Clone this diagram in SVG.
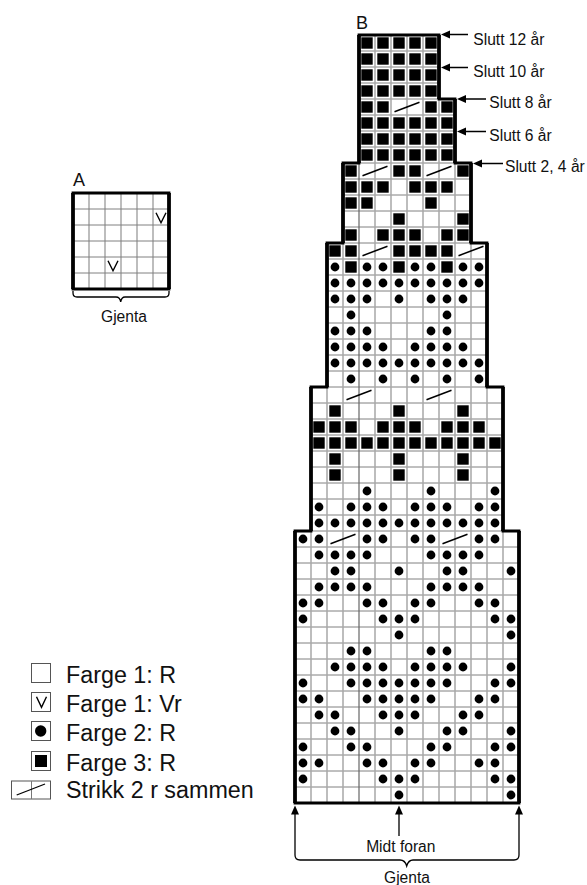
<svg xmlns="http://www.w3.org/2000/svg" width="587" height="885" viewBox="0 0 587 885">
<style>
text{font-family:"Liberation Sans",Arial,sans-serif;fill:#111}
.t{font-size:15.6px}
.l{font-size:23.3px}
.h{font-size:18px}
.gh{stroke:#808080;stroke-width:1;fill:none}
.gv{stroke:#a8a8a8;stroke-width:1.5;fill:none}
.mid{stroke:#666;stroke-width:1.2;fill:none}
.ov{stroke:#000;stroke-width:3.800;fill:none}
.oh{stroke:#000;stroke-width:2.800;fill:none;stroke-linecap:square}
.c{stroke:#000;stroke-width:1.3;fill:none}
.box{stroke:#555;stroke-width:1;fill:#fff}
.v{stroke:#000;stroke-width:1.4;fill:none}
</style>
<defs>
<rect id="s" x="2.300" y="2.300" width="11.400" height="11.400"/>
<circle id="d" cx="8" cy="8" r="4.400"/>
<line id="k" x1="3.500" y1="12.700" x2="28.500" y2="3.300" stroke="#000" stroke-width="1.500"/>
<path id="v" d="M3 3.700L8 13.700L13 3.700" fill="none" stroke="#000" stroke-width="1.400"/>
<path id="ar" d="M0 0L9 -4V4Z"/>
</defs>
<rect width="587" height="885" fill="#fff"/>
<g id="chart-a">
<path class="gv" d="M89 193V289M105 193V289M121 193V289M137 193V289M153 193V289"/>
<path class="gh" d="M73 209H169M73 225H169M73 241H169M73 257H169M73 273H169"/>
<use href="#v" x="153" y="209"/>
<use href="#v" x="105" y="257"/>
<path class="ov" d="M73 193V289M169 193V289"/>
<path class="oh" d="M73 193H169M73 289H169"/>
<text class="h" x="73" y="186">A</text>
<path class="c" d="M73 291V293Q73 297 77 297H116Q120 297 120.700 302Q121.500 297 125 297H165Q169 297 169 293V291"/>
<text class="t" x="124" y="321.500" text-anchor="middle">Gjenta</text>
</g>
<g id="chart-b">
<path class="gh" d="M359 51H439M359 67H439M359 83H439M359 99H455M359 115H455M359 131H455M359 147H455M343 163H471M343 179H471M343 195H471M343 211H471M343 227H471M327 243H487M327 259H487M327 275H487M327 291H487M327 307H487M327 323H487M327 339H487M327 355H487M327 371H487M311 387H503M311 403H503M311 419H503M311 435H503M311 451H503M311 467H503M311 483H503M311 499H503M311 515H503M295 531H519M295 547H519M295 563H519M295 579H519M295 595H519M295 611H519M295 627H519M295 643H519M295 659H519M295 675H519M295 691H519M295 707H519M295 723H519M295 739H519M295 755H519M295 771H519M295 787H519"/>
<path class="gv" d="M375 35V803M391 35V803M407 35V803M423 35V803M439 99V803M455 163V803M471 243V803M487 387V803M503 531V803M343 243V803M327 387V803M311 531V803"/>
<path class="mid" d="M359 163V803"/>
<g id="section-6">
<g transform="translate(0 35)"><use href="#s" x="359"/><use href="#s" x="375"/><use href="#s" x="391"/><use href="#s" x="407"/><use href="#s" x="423"/></g>
<g transform="translate(0 51)"><use href="#s" x="359"/><use href="#s" x="375"/><use href="#s" x="391"/><use href="#s" x="407"/><use href="#s" x="423"/></g>
<g transform="translate(0 67)"><use href="#s" x="359"/><use href="#s" x="375"/><use href="#s" x="391"/><use href="#s" x="407"/><use href="#s" x="423"/></g>
<g transform="translate(0 83)"><use href="#s" x="359"/><use href="#s" x="375"/><use href="#s" x="391"/><use href="#s" x="407"/><use href="#s" x="423"/></g>
</g>
<g id="section-5">
<g transform="translate(0 99)"><use href="#s" x="359"/><use href="#s" x="375"/><use href="#k" x="391"/><use href="#s" x="423"/><use href="#s" x="439"/></g>
<g transform="translate(0 115)"><use href="#s" x="359"/><use href="#s" x="375"/><use href="#s" x="391"/><use href="#s" x="407"/><use href="#s" x="423"/><use href="#s" x="439"/></g>
<g transform="translate(0 131)"><use href="#s" x="359"/><use href="#s" x="375"/><use href="#s" x="391"/><use href="#s" x="407"/><use href="#s" x="423"/><use href="#s" x="439"/></g>
<g transform="translate(0 147)"><use href="#s" x="359"/><use href="#s" x="375"/><use href="#s" x="391"/><use href="#s" x="407"/><use href="#s" x="423"/><use href="#s" x="439"/></g>
</g>
<g id="section-4">
<g transform="translate(0 163)"><use href="#s" x="343"/><use href="#k" x="359"/><use href="#s" x="391"/><use href="#s" x="407"/><use href="#k" x="423"/><use href="#s" x="455"/></g>
<g transform="translate(0 179)"><use href="#s" x="343"/><use href="#s" x="359"/><use href="#s" x="375"/><use href="#s" x="407"/><use href="#s" x="423"/><use href="#s" x="439"/></g>
<g transform="translate(0 195)"><use href="#s" x="343"/><use href="#s" x="359"/><use href="#s" x="423"/></g>
<g transform="translate(0 211)"><use href="#s" x="391"/><use href="#s" x="455"/></g>
<g transform="translate(0 227)"><use href="#s" x="343"/><use href="#s" x="375"/><use href="#s" x="391"/><use href="#s" x="407"/><use href="#s" x="439"/><use href="#s" x="455"/></g>
</g>
<g id="section-3">
<g transform="translate(0 243)"><use href="#s" x="327"/><use href="#s" x="343"/><use href="#k" x="359"/><use href="#s" x="391"/><use href="#s" x="407"/><use href="#s" x="423"/><use href="#s" x="439"/><use href="#k" x="455"/></g>
<g transform="translate(0 259)"><use href="#d" x="327"/><use href="#s" x="343"/><use href="#d" x="359"/><use href="#d" x="375"/><use href="#s" x="391"/><use href="#d" x="407"/><use href="#d" x="423"/><use href="#s" x="439"/><use href="#d" x="455"/><use href="#d" x="471"/></g>
<g transform="translate(0 275)"><use href="#d" x="327"/><use href="#d" x="343"/><use href="#d" x="359"/><use href="#d" x="375"/><use href="#d" x="391"/><use href="#d" x="407"/><use href="#d" x="423"/><use href="#d" x="439"/><use href="#d" x="455"/><use href="#d" x="471"/></g>
<g transform="translate(0 291)"><use href="#d" x="327"/><use href="#d" x="343"/><use href="#d" x="359"/><use href="#d" x="391"/><use href="#d" x="423"/><use href="#d" x="439"/><use href="#d" x="455"/></g>
<g transform="translate(0 307)"><use href="#d" x="343"/><use href="#d" x="439"/></g>
<g transform="translate(0 323)"><use href="#d" x="327"/><use href="#d" x="343"/><use href="#d" x="359"/><use href="#d" x="423"/><use href="#d" x="439"/></g>
<g transform="translate(0 339)"><use href="#d" x="327"/><use href="#d" x="343"/><use href="#d" x="359"/><use href="#d" x="375"/><use href="#d" x="407"/><use href="#d" x="423"/><use href="#d" x="439"/><use href="#d" x="455"/></g>
<g transform="translate(0 355)"><use href="#d" x="327"/><use href="#d" x="343"/><use href="#d" x="359"/><use href="#d" x="375"/><use href="#d" x="391"/><use href="#d" x="407"/><use href="#d" x="423"/><use href="#d" x="439"/><use href="#d" x="455"/><use href="#d" x="471"/></g>
<g transform="translate(0 371)"><use href="#d" x="343"/><use href="#d" x="375"/><use href="#d" x="407"/><use href="#d" x="439"/><use href="#d" x="471"/></g>
</g>
<g id="section-2">
<g transform="translate(0 387)"><use href="#k" x="343"/><use href="#k" x="423"/></g>
<g transform="translate(0 403)"><use href="#s" x="327"/><use href="#s" x="391"/><use href="#s" x="455"/></g>
<g transform="translate(0 419)"><use href="#s" x="311"/><use href="#s" x="327"/><use href="#s" x="343"/><use href="#s" x="375"/><use href="#s" x="391"/><use href="#s" x="407"/><use href="#s" x="439"/><use href="#s" x="455"/><use href="#s" x="471"/></g>
<g transform="translate(0 435)"><use href="#s" x="311"/><use href="#s" x="327"/><use href="#s" x="343"/><use href="#s" x="359"/><use href="#s" x="375"/><use href="#s" x="391"/><use href="#s" x="407"/><use href="#s" x="423"/><use href="#s" x="439"/><use href="#s" x="455"/><use href="#s" x="471"/><use href="#s" x="487"/></g>
<g transform="translate(0 451)"><use href="#s" x="327"/><use href="#s" x="391"/><use href="#s" x="455"/></g>
<g transform="translate(0 467)"><use href="#s" x="327"/><use href="#s" x="391"/><use href="#s" x="455"/></g>
<g transform="translate(0 483)"><use href="#d" x="359"/><use href="#d" x="423"/><use href="#d" x="487"/></g>
<g transform="translate(0 499)"><use href="#d" x="311"/><use href="#d" x="343"/><use href="#d" x="359"/><use href="#d" x="375"/><use href="#d" x="407"/><use href="#d" x="423"/><use href="#d" x="439"/><use href="#d" x="471"/><use href="#d" x="487"/></g>
<g transform="translate(0 515)"><use href="#d" x="311"/><use href="#d" x="327"/><use href="#d" x="343"/><use href="#d" x="359"/><use href="#d" x="375"/><use href="#d" x="391"/><use href="#d" x="407"/><use href="#d" x="423"/><use href="#d" x="439"/><use href="#d" x="455"/><use href="#d" x="471"/><use href="#d" x="487"/></g>
</g>
<g id="section-1">
<g transform="translate(0 531)"><use href="#d" x="295"/><use href="#d" x="311"/><use href="#k" x="327"/><use href="#d" x="359"/><use href="#d" x="375"/><use href="#d" x="407"/><use href="#d" x="423"/><use href="#k" x="439"/><use href="#d" x="471"/><use href="#d" x="487"/></g>
<g transform="translate(0 547)"><use href="#d" x="311"/><use href="#d" x="327"/><use href="#d" x="343"/><use href="#d" x="359"/><use href="#d" x="423"/><use href="#d" x="439"/><use href="#d" x="455"/><use href="#d" x="471"/></g>
<g transform="translate(0 563)"><use href="#d" x="327"/><use href="#d" x="343"/><use href="#d" x="391"/><use href="#d" x="439"/><use href="#d" x="455"/><use href="#d" x="503"/></g>
<g transform="translate(0 579)"><use href="#d" x="311"/><use href="#d" x="327"/><use href="#d" x="343"/><use href="#d" x="359"/><use href="#d" x="423"/><use href="#d" x="439"/><use href="#d" x="455"/><use href="#d" x="471"/></g>
<g transform="translate(0 595)"><use href="#d" x="295"/><use href="#d" x="311"/><use href="#d" x="359"/><use href="#d" x="375"/><use href="#d" x="407"/><use href="#d" x="423"/><use href="#d" x="471"/><use href="#d" x="487"/></g>
<g transform="translate(0 611)"><use href="#d" x="295"/><use href="#d" x="375"/><use href="#d" x="391"/><use href="#d" x="407"/><use href="#d" x="487"/><use href="#d" x="503"/></g>
<g transform="translate(0 627)"><use href="#d" x="391"/><use href="#d" x="503"/></g>
<g transform="translate(0 643)"><use href="#d" x="343"/><use href="#d" x="359"/><use href="#d" x="423"/><use href="#d" x="439"/></g>
<g transform="translate(0 659)"><use href="#d" x="327"/><use href="#d" x="343"/><use href="#d" x="359"/><use href="#d" x="375"/><use href="#d" x="407"/><use href="#d" x="423"/><use href="#d" x="439"/><use href="#d" x="455"/><use href="#d" x="503"/></g>
<g transform="translate(0 675)"><use href="#d" x="295"/><use href="#d" x="343"/><use href="#d" x="359"/><use href="#d" x="375"/><use href="#d" x="391"/><use href="#d" x="407"/><use href="#d" x="423"/><use href="#d" x="439"/><use href="#d" x="487"/><use href="#d" x="503"/></g>
<g transform="translate(0 691)"><use href="#d" x="295"/><use href="#d" x="311"/><use href="#d" x="359"/><use href="#d" x="375"/><use href="#d" x="391"/><use href="#d" x="407"/><use href="#d" x="423"/><use href="#d" x="471"/><use href="#d" x="487"/></g>
<g transform="translate(0 707)"><use href="#d" x="311"/><use href="#d" x="327"/><use href="#d" x="375"/><use href="#d" x="391"/><use href="#d" x="407"/><use href="#d" x="455"/><use href="#d" x="471"/></g>
<g transform="translate(0 723)"><use href="#d" x="327"/><use href="#d" x="343"/><use href="#d" x="391"/><use href="#d" x="439"/><use href="#d" x="455"/><use href="#d" x="503"/></g>
<g transform="translate(0 739)"><use href="#d" x="295"/><use href="#d" x="343"/><use href="#d" x="359"/><use href="#d" x="423"/><use href="#d" x="439"/><use href="#d" x="487"/><use href="#d" x="503"/></g>
<g transform="translate(0 755)"><use href="#d" x="295"/><use href="#d" x="311"/><use href="#d" x="359"/><use href="#d" x="375"/><use href="#d" x="407"/><use href="#d" x="423"/><use href="#d" x="471"/><use href="#d" x="487"/></g>
<g transform="translate(0 771)"><use href="#d" x="295"/><use href="#d" x="375"/><use href="#d" x="391"/><use href="#d" x="407"/><use href="#d" x="487"/><use href="#d" x="503"/></g>
<g transform="translate(0 787)"><use href="#d" x="391"/><use href="#d" x="503"/></g>
</g>
<path class="ov" d="M359 35V163M439 35V99M455 99V163M471 163V243M343 163V243M327 243V387M487 243V387M311 387V531M503 387V531M295 531V803M519 531V803"/>
<path class="oh" d="M359 35H439M439 99H455M455 163H471M343 163H359M327 243H343M471 243H487M311 387H327M487 387H503M295 531H311M503 531H519M295 803H519"/>
<text class="h" x="356" y="28.500">B</text>
</g>
<g id="connectors">
<path class="c" d="M448 34.500H468M448 67.500H468M464 99H486M464 131.500H486M480 163.500H503M399 813V836M295 813V855Q295 860 300 860H400Q405 860 406.700 866Q408.500 860 413 860H514Q519 860 519 855V813"/>
<use href="#ar" x="441" y="34.500"/>
<use href="#ar" x="441" y="67.500"/>
<use href="#ar" x="457" y="99"/>
<use href="#ar" x="457" y="131.500"/>
<use href="#ar" x="473" y="163.500"/>
<use href="#ar" transform="translate(295 805.500) rotate(90)"/>
<use href="#ar" transform="translate(399 805.500) rotate(90)"/>
<use href="#ar" transform="translate(519 805.500) rotate(90)"/>
</g>
<g id="labels">
<text class="t" x="473.300" y="44.500">Slutt 12 år</text>
<text class="t" x="473.300" y="76.700">Slutt 10 år</text>
<text class="t" x="489.300" y="108">Slutt 8 år</text>
<text class="t" x="489.300" y="140.700">Slutt 6 år</text>
<text class="t" x="505" y="172">Slutt 2, 4 år</text>
<text class="t" x="400.800" y="851.700" text-anchor="middle">Midt foran</text>
<text class="t" x="407" y="883" text-anchor="middle">Gjenta</text>
</g>
<g id="legend">
<g id="leg-1"><rect class="box" x="31.500" y="663.500" width="19" height="19"/><text class="l" x="66" y="682.700">Farge 1: R</text></g>
<g id="leg-2"><rect class="box" x="31.500" y="692.500" width="19" height="19"/><path class="v" d="M36.500 696.700L41.500 707.300L46.500 696.700"/><text class="l" x="66" y="711.700">Farge 1: Vr</text></g>
<g id="leg-3"><rect class="box" x="31.500" y="721.500" width="19" height="19"/><circle cx="40.700" cy="731" r="5.700"/><text class="l" x="66" y="741">Farge 2: R</text></g>
<g id="leg-4"><rect class="box" x="31.500" y="751.500" width="19" height="19"/><rect x="35" y="755" width="12" height="12"/><text class="l" x="66" y="770.500">Farge 3: R</text></g>
<g id="leg-5"><rect class="box" x="11.500" y="781" width="39" height="18"/><line x1="31.500" y1="781" x2="31.500" y2="799" stroke="#777"/><line x1="16.700" y1="795" x2="45" y2="784" stroke="#000" stroke-width="1.300"/><text class="l" x="66" y="798.300">Strikk 2 r sammen</text></g>
</g>
</svg>
